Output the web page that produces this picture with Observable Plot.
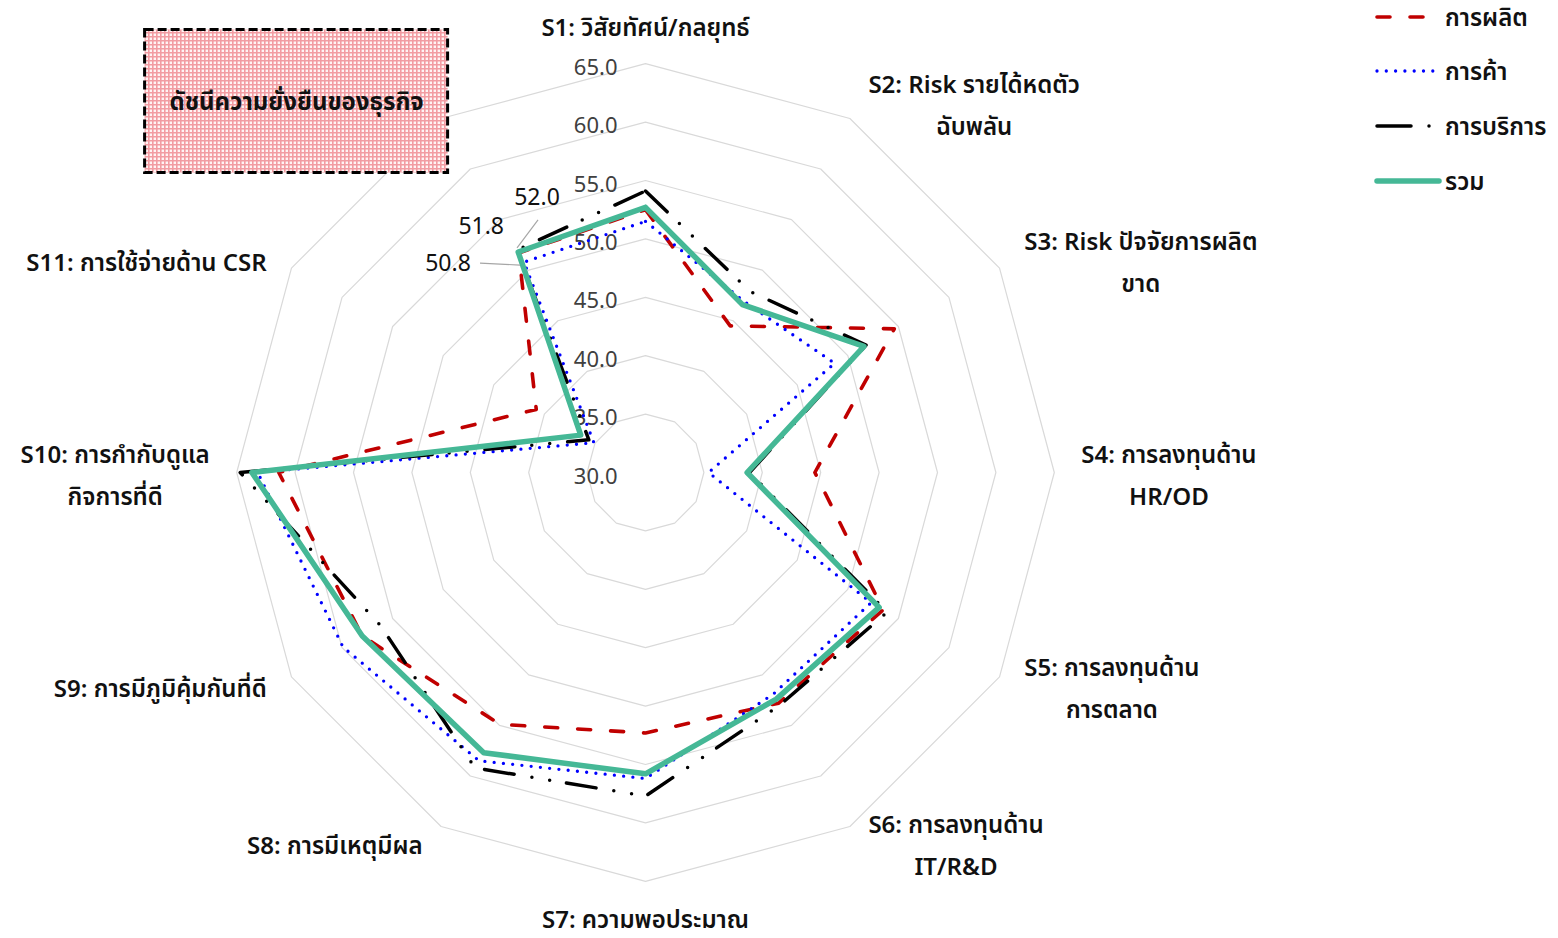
<!DOCTYPE html>
<html><head><meta charset="utf-8">
<script src="https://cdn.jsdelivr.net/npm/d3@7"></script>
<script src="https://cdn.jsdelivr.net/npm/@observablehq/plot@0.6"></script>
<style>
body{margin:0;background:#fff;}
#wrap{position:relative;width:1558px;height:938px;overflow:hidden;}
#legend{position:absolute;left:0;top:0;}
</style></head><body><div id="wrap"></div>
<script>
// ---------- data ----------
const categories = [
  "S1: วิสัยทัศน์/กลยุทธ์",
  "S2: Risk รายได้หดตัว\nฉับพลัน",
  "S3: Risk ปัจจัยการผลิต\nขาด",
  "S4: การลงทุนด้าน\nHR/OD",
  "S5: การลงทุนด้าน\nการตลาด",
  "S6: การลงทุนด้าน\nIT/R&D",
  "S7: ความพอประมาณ",
  "S8: การมีเหตุมีผล",
  "S9: การมีภูมิคุ้มกันที่ดี",
  "S10: การกำกับดูแล\nกิจการที่ดี",
  "S11: การใช้จ่ายด้าน CSR",
  "ดัชนีความยั่งยืนของธุรกิจ"
];
const seriesNames = ["การผลิต", "การค้า", "การบริการ", "รวม"];
const production = [52.5, 44.5, 54.6, 44.5, 53.5, 52.8, 52.3, 54.9, 58.0, 61.4, 40.8, 51.7];
const trade      = [51.5, 46.9, 48.7, 35.4, 52.3, 51.9, 56.2, 58.5, 59.9, 63.2, 35.1, 50.8];
const service    = [54.1, 47.9, 51.8, 38.9, 53.9, 53.0, 57.7, 59.2, 56.2, 64.7, 35.6, 52.0];
const total      = [52.7, 46.6, 51.6, 38.7, 53.1, 52.4, 55.8, 57.7, 58.0, 63.7, 36.4, 51.8];
const ticks = [30, 35, 40, 45, 50, 55, 60, 65];
const labelledSeries = ["การบริการ", "รวม", "การค้า"]; // value labels on the index axis

// ---------- layout ----------
const W = 1558, H = 938;
const FONT = '"Noto Sans Thai", "Leelawadee UI", Tahoma, "Noto Sans", "DejaVu Sans", sans-serif';
const cx = 645, cy = 472, k = 11.68;        // centre (px) and px per unit
const rMin = ticks[0], rMax = ticks[ticks.length - 1];
const N = categories.length;
const idx = N - 1;
const ang = i => (i % N) * 2 * Math.PI / N;
const px = (v, i) => (v - rMin) * Math.sin(ang(i));
const py = (v, i) => (v - rMin) * Math.cos(ang(i));
const toPxX = x => cx + x * k, toPxY = y => cy - y * k;
const toX = p => (p - cx) / k, toY = p => (cy - p) / k;

const styles = {
  "การผลิต":  {stroke: "#C00000", strokeWidth: 3.6, strokeDasharray: "13,20"},
  "การค้า":   {stroke: "#0000FF", strokeWidth: 3.3, strokeDasharray: "0,9.3"},
  "การบริการ": {stroke: "#000000", strokeWidth: 3.5, strokeDasharray: "30,17,0,18,0,18"},
  "รวม":     {stroke: "#45B896", strokeWidth: 5.5, strokeDasharray: null}
};
const valuesBy = {"การผลิต": production, "การค้า": trade, "การบริการ": service, "รวม": total};

const closed = name => d3.range(N + 1).map(j => ({series: name, i: j % N, value: valuesBy[name][j % N]}));
const ringRows = ticks.filter(t => t > rMin).flatMap(t => d3.range(N + 1).map(j => ({t, i: j % N})));

// text measuring for label placement
const ctx = document.createElement("canvas").getContext("2d");
const LABEL_SIZE = 24;
ctx.font = `600 ${LABEL_SIZE}px ${FONT}`;
const labelRows = categories.map((text, i) => {
  if (i === idx) return null;
  const a = ang(i), R = (rMax - rMin) * k;
  const Vx = cx + R * Math.sin(a), Vy = cy - R * Math.cos(a);
  const w = d3.max(text.split("\n"), s => ctx.measureText(s).width);
  let X, Y;
  const s = Math.sin(a);
  if (Math.abs(s) < 1e-6) {
    X = Vx; Y = Math.cos(a) > 0 ? Vy - 41 : Vy + 33;
  } else {
    const gap = 10 + 17 * Math.abs(s);
    X = s > 0 ? Vx + gap + w / 2 : Vx - gap - w / 2;
    Y = Vy - Math.cos(a) * 18 - 2;
  }
  return {text, X, Y};
}).filter(d => d);

// index box
const aI = ang(idx), RI = (rMax - rMin) * k;
const VIx = cx + RI * Math.sin(aI), VIy = cy - RI * Math.cos(aI);
const box = {x2: VIx + 7, x1: VIx + 7 - 303, yc: VIy - 17, h: 143, text: categories[idx]};

// value labels at the index axis
const offsets = {"การบริการ": [20, -52, [21, -30], [0, -2]], "รวม": [-37, -25, null, null], "การค้า": [-76, 2, [-44, 1], [-4, 3]]};
const valueLabels = labelledSeries.map(name => {
  const v = valuesBy[name][idx];
  const Px = toPxX(px(v, idx)), Py = toPxY(py(v, idx));
  const o = offsets[name];
  return {name, text: v.toFixed(1), X: Px + o[0], Y: Py + o[1],
    lead: o[2] ? {x1: Px + o[2][0], y1: Py + o[2][1], x2: Px + o[3][0], y2: Py + o[3][1]} : null};
});

const chart = Plot.plot({
  width: W, height: H, margin: 0,
  x: {domain: [toX(0), toX(W)], axis: null},
  y: {domain: [toY(H), toY(0)], axis: null},
  style: {fontFamily: FONT, background: "white", overflow: "visible"},
  marks: [
    Plot.line(ringRows, {x: d => px(d.t, d.i), y: d => py(d.t, d.i), z: "t", stroke: "#D9D9D9", strokeWidth: 1.2}),
    Plot.text(ticks, {x: () => 0, y: t => t - rMin, text: t => t.toFixed(1), textAnchor: "end", dx: -28, dy: 4, fontSize: 22, fill: "#404040"}),
    ...seriesNames.map(name => Plot.line(closed(name), {
      x: d => px(d.value, d.i), y: d => py(d.value, d.i),
      stroke: styles[name].stroke, strokeWidth: styles[name].strokeWidth,
      strokeDasharray: styles[name].strokeDasharray, strokeLinecap: "round", strokeLinejoin: "round"
    })),
    Plot.text(labelRows, {x: d => toX(d.X), y: d => toY(d.Y), text: "text", textAnchor: "middle", lineAnchor: "middle",
      lineHeight: 1.75, fontSize: LABEL_SIZE, fontWeight: 600, fill: "#111"}),
    Plot.rect([box], {x1: d => toX(d.x1), x2: d => toX(d.x2), y1: d => toY(d.yc - d.h / 2), y2: d => toY(d.yc + d.h / 2),
      fill: "url(#pinkgrid)", stroke: "#000", strokeWidth: 3, strokeDasharray: "9,4"}),
    Plot.text([box], {x: d => toX((d.x1 + d.x2) / 2), y: d => toY(d.yc), dy: 1, text: "text", fontSize: 24, fontWeight: 700, fill: "#111"}),
    Plot.link(valueLabels.filter(d => d.lead), {x1: d => toX(d.lead.x1), y1: d => toY(d.lead.y1), x2: d => toX(d.lead.x2), y2: d => toY(d.lead.y2),
      stroke: "#A6A6A6", strokeWidth: 1.2}),
    Plot.text(valueLabels, {x: d => toX(d.X), y: d => toY(d.Y), text: "text", fontSize: 23, fill: "#111"})
  ]
});

// pink grid pattern for the index box
const defs = d3.select(chart).insert("defs", ":first-child");
const pat = defs.append("pattern").attr("id", "pinkgrid").attr("width", 4).attr("height", 4).attr("patternUnits", "userSpaceOnUse");
pat.append("rect").attr("width", 4).attr("height", 4).attr("fill", "#FFF4F4");
pat.append("path").attr("d", "M0,0.8H4M0.8,0V4").attr("stroke", "#F29CA2").attr("stroke-width", 1.6);

const wrap = document.getElementById("wrap");
wrap.appendChild(chart);

// legend
const lg = d3.select(wrap).append("svg").attr("id", "legend").attr("width", W).attr("height", 210)
  .style("font-family", FONT).style("pointer-events", "none");
const legendY = [17, 71, 126, 181];
const sampleEnd = {"การผลิต": 1427, "การค้า": 1436, "การบริการ": 1432, "รวม": 1439};
seriesNames.forEach((name, j) => {
  const st = styles[name];
  lg.append("line").attr("x1", 1377).attr("x2", sampleEnd[name]).attr("y1", legendY[j]).attr("y2", legendY[j])
    .attr("stroke", st.stroke).attr("stroke-width", name === "รวม" ? 5.5 : st.strokeWidth)
    .attr("stroke-dasharray", name === "การผลิต" ? "13,20" : name === "การบริการ" ? "34,18,0,40" : st.strokeDasharray)
    .attr("stroke-linecap", "round");
  lg.append("text").attr("x", 1445).attr("y", legendY[j] + 1).attr("dy", "0.35em")
    .attr("font-size", 24).attr("font-weight", 600).attr("fill", "#111").text(name);
});
</script>
</body></html>
